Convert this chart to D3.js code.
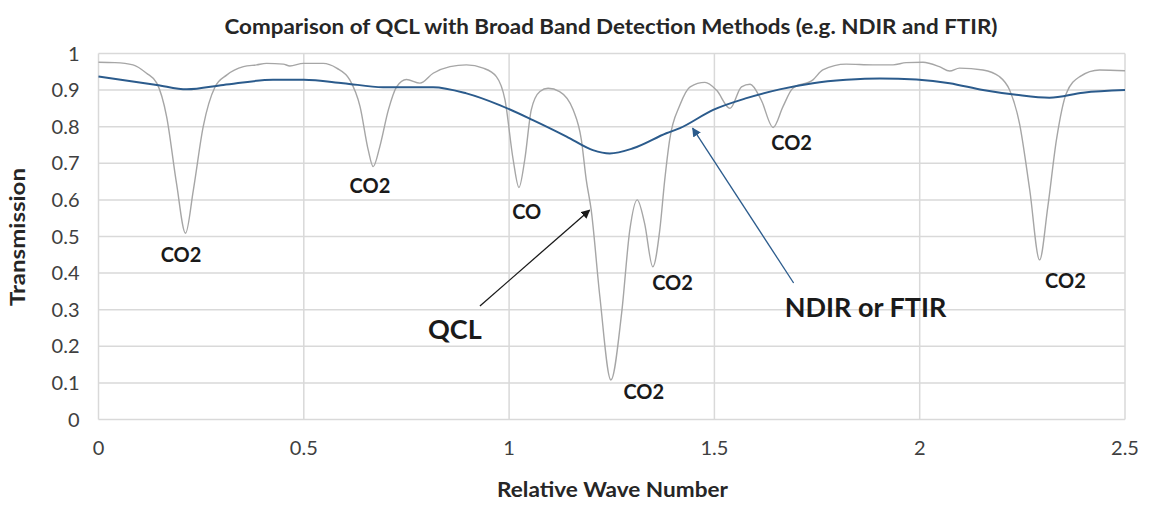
<!DOCTYPE html>
<html>
<head>
<meta charset="utf-8">
<script src="https://cdn.jsdelivr.net/npm/d3@7"></script>
<style>
  body { margin: 0; background: #fff; }
  text { font-family: Lato, "Open Sans", sans-serif; }
</style>
</head>
<body>
<div id="chart"></div>
<script>
// QCL (narrow line) transmission
const qclWave = [0, 0.04, 0.084, 0.117, 0.142, 0.166, 0.19, 0.212, 0.231, 0.255, 0.284, 0.312, 0.353, 0.385,
  0.409, 0.45, 0.466, 0.499, 0.547, 0.58, 0.612, 0.637, 0.657, 0.669, 0.685, 0.706, 0.726, 0.75, 0.783,
  0.815, 0.856, 0.896, 0.937, 0.969, 0.99, 1.01, 1.024, 1.038, 1.054, 1.075, 1.095, 1.123, 1.156, 1.176,
  1.188, 1.2, 1.221, 1.248, 1.274, 1.294, 1.312, 1.33, 1.35, 1.367, 1.379, 1.391, 1.416, 1.441, 1.477,
  1.505, 1.538, 1.566, 1.587, 1.614, 1.643, 1.667, 1.691, 1.74, 1.764, 1.821, 1.886, 1.935, 1.967, 2.008,
  2.048, 2.073, 2.097, 2.154, 2.194, 2.219, 2.243, 2.268, 2.292, 2.312, 2.333, 2.357, 2.39, 2.438, 2.5];
const qclTrans = [0.976, 0.975, 0.969, 0.946, 0.919, 0.827, 0.645, 0.509, 0.627, 0.8, 0.909, 0.941, 0.964, 0.969,
  0.973, 0.971, 0.966, 0.973, 0.973, 0.96, 0.928, 0.855, 0.736, 0.691, 0.745, 0.846, 0.909, 0.929, 0.919,
  0.946, 0.964, 0.969, 0.96, 0.937, 0.873, 0.709, 0.634, 0.709, 0.846, 0.896, 0.905, 0.896, 0.846, 0.764,
  0.654, 0.572, 0.336, 0.108, 0.29, 0.518, 0.6, 0.536, 0.417, 0.518, 0.654, 0.764, 0.859, 0.909, 0.921,
  0.9, 0.85, 0.909, 0.916, 0.873, 0.798, 0.855, 0.905, 0.928, 0.955, 0.971, 0.969, 0.969, 0.975, 0.976,
  0.964, 0.952, 0.96, 0.955, 0.937, 0.9, 0.809, 0.627, 0.436, 0.581, 0.764, 0.891, 0.937, 0.955, 0.953];

// NDIR / FTIR (broad band) transmission
const ndirWave = [0, 0.142, 0.215, 0.304, 0.425, 0.5, 0.596, 0.693, 0.815, 0.896, 0.977, 1.058, 1.14, 1.204,
  1.245, 1.302, 1.383, 1.416, 1.497, 1.578, 1.659, 1.74, 1.821, 1.903, 1.992, 2.073, 2.154, 2.235, 2.316, 2.398, 2.5];
const ndirTrans = [0.937, 0.914, 0.902, 0.914, 0.928, 0.928, 0.919, 0.908, 0.908, 0.891, 0.859, 0.818, 0.773, 0.736,
  0.727, 0.741, 0.782, 0.796, 0.846, 0.878, 0.902, 0.919, 0.928, 0.932, 0.929, 0.919, 0.9, 0.887, 0.879, 0.893, 0.9];

const xTicks = [0, 0.5, 1, 1.5, 2, 2.5];
const yTicks = [0, 0.1, 0.2, 0.3, 0.4, 0.5, 0.6, 0.7, 0.8, 0.9, 1];

// absorption line labels
const lineNames = ["CO2", "CO2", "CO", "CO2", "CO2", "CO2", "CO2"];
const lineWave = [0.201, 0.661, 1.043, 1.328, 1.398, 1.688, 2.355];
const lineTrans = [0.449, 0.638, 0.567, 0.075, 0.373, 0.755, 0.378];

const width = 1150,
  height = 522,
  margin = { top: 53.5, right: 25, bottom: 102.5, left: 98.5 };

const svg = d3.select("#chart").append("svg")
  .attr("width", width)
  .attr("height", height);

svg.append("rect").attr("width", width).attr("height", height).attr("fill", "#fff");

const x = d3.scaleLinear().domain([0, 2.5]).range([margin.left, width - margin.right]);
const y = d3.scaleLinear().domain([0, 1]).range([height - margin.bottom, margin.top]);

// grid
const grid = svg.append("g").attr("stroke", "#d9d9d9").attr("stroke-width", 1.5);
grid.selectAll(".hg").data(yTicks).enter().append("line")
  .attr("x1", x(0)).attr("x2", x(2.5))
  .attr("y1", d => y(d)).attr("y2", d => y(d));
grid.selectAll(".vg").data(xTicks).enter().append("line")
  .attr("x1", d => x(d)).attr("x2", d => x(d))
  .attr("y1", y(0)).attr("y2", y(1));

// tick labels
svg.append("g").selectAll("text").data(yTicks).enter().append("text")
  .attr("x", x(0) - 19)
  .attr("y", d => y(d))
  .attr("dy", "0.35em")
  .attr("text-anchor", "end")
  .attr("font-size", 20)
  .attr("fill", "#404040")
  .text(d => d);

svg.append("g").selectAll("text").data(xTicks).enter().append("text")
  .attr("x", d => x(d))
  .attr("y", y(0) + 28)
  .attr("dy", "0.35em")
  .attr("text-anchor", "middle")
  .attr("font-size", 20)
  .attr("fill", "#404040")
  .text(d => d);

// axis titles
svg.append("text")
  .attr("x", 612.5)
  .attr("y", 497)
  .attr("text-anchor", "middle")
  .attr("font-size", 21)
  .attr("font-weight", "bold")
  .attr("fill", "#262626")
  .attr("textLength", 231)
  .attr("lengthAdjust", "spacingAndGlyphs")
  .text("Relative Wave Number");

svg.append("text")
  .attr("transform", "translate(25,237) rotate(-90)")
  .attr("text-anchor", "middle")
  .attr("font-size", 21)
  .attr("font-weight", "bold")
  .attr("fill", "#262626")
  .attr("textLength", 138)
  .attr("lengthAdjust", "spacingAndGlyphs")
  .text("Transmission");

svg.append("text")
  .attr("x", 611)
  .attr("y", 34)
  .attr("text-anchor", "middle")
  .attr("font-size", 20)
  .attr("font-weight", "bold")
  .attr("fill", "#262626")
  .attr("textLength", 773)
  .attr("lengthAdjust", "spacingAndGlyphs")
  .text("Comparison of QCL with Broad Band Detection Methods (e.g. NDIR and FTIR)");

// series
const line = d3.line()
  .x(d => x(d[0]))
  .y(d => y(d[1]))
  .curve(d3.curveMonotoneX);

svg.append("path")
  .datum(d3.zip(qclWave, qclTrans))
  .attr("fill", "none")
  .attr("stroke", "#a6a6a6")
  .attr("stroke-width", 1.4)
  .attr("d", line);

svg.append("path")
  .datum(d3.zip(ndirWave, ndirTrans))
  .attr("fill", "none")
  .attr("stroke", "#2b5b8c")
  .attr("stroke-width", 2)
  .attr("d", line);

// line labels
svg.append("g").selectAll("text").data(lineNames).enter().append("text")
  .attr("x", (d, i) => x(lineWave[i]))
  .attr("y", (d, i) => y(lineTrans[i]))
  .attr("dy", "0.35em")
  .attr("text-anchor", "middle")
  .attr("font-size", 20)
  .attr("font-weight", "bold")
  .attr("fill", "#1a1a1a")
  .text(d => d);

// arrows
const defs = svg.append("defs");
[["arrowBlack", "#1a1a1a"], ["arrowBlue", "#2b5b8c"]].forEach(function(m) {
  defs.append("marker")
    .attr("id", m[0])
    .attr("viewBox", "0 0 10 10")
    .attr("refX", 9).attr("refY", 5)
    .attr("markerWidth", 9).attr("markerHeight", 9)
    .attr("markerUnits", "userSpaceOnUse")
    .attr("orient", "auto")
    .append("path")
    .attr("d", "M0,0 L10,5 L0,10 z")
    .attr("fill", m[1]);
});

svg.append("line")
  .attr("x1", x(0.929)).attr("y1", y(0.31))
  .attr("x2", x(1.196)).attr("y2", y(0.572))
  .attr("stroke", "#1a1a1a").attr("stroke-width", 1.3)
  .attr("marker-end", "url(#arrowBlack)");

svg.append("line")
  .attr("x1", x(1.693)).attr("y1", y(0.373))
  .attr("x2", x(1.447)).attr("y2", y(0.796))
  .attr("stroke", "#2b5b8c").attr("stroke-width", 1.3)
  .attr("marker-end", "url(#arrowBlue)");

svg.append("text")
  .attr("x", x(0.868)).attr("y", y(0.247))
  .attr("dy", "0.35em")
  .attr("text-anchor", "middle")
  .attr("font-size", 27)
  .attr("font-weight", "bold")
  .attr("fill", "#1a1a1a")
  .text("QCL");

svg.append("text")
  .attr("x", x(1.868)).attr("y", y(0.307))
  .attr("dy", "0.35em")
  .attr("text-anchor", "middle")
  .attr("font-size", 27)
  .attr("font-weight", "bold")
  .attr("fill", "#1a1a1a")
  .text("NDIR or FTIR");
</script>
</body>
</html>
